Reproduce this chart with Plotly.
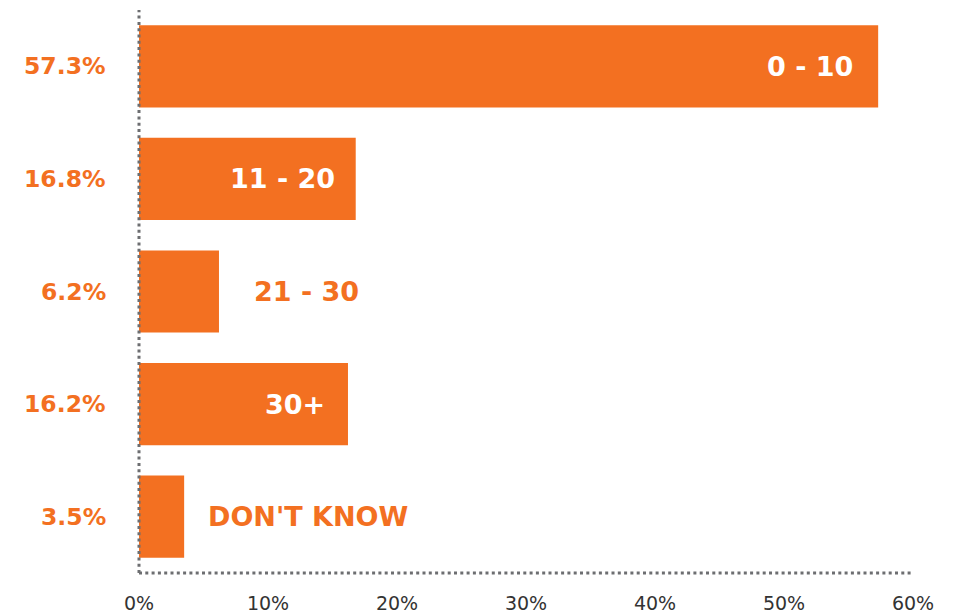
import plotly.graph_objects as go

# Survey answers: share of respondents per range
categories = ["0 - 10", "11 - 20", "21 - 30", "30+", "DON'T KNOW"]
values = [57.3, 16.8, 6.2, 16.2, 3.5]
value_labels = ["57.3%", "16.8%", "6.2%", "16.2%", "3.5%"]
x_ticks = [0, 10, 20, 30, 40, 50, 60]
x_tick_labels = ["0%", "10%", "20%", "30%", "40%", "50%", "60%"]

ORANGE = "#F37021"
DOT_GREY = "#6d6e71"
FONT = "DejaVu Sans"

# Where each category name sits relative to its bar end (pixels):
# negative = inside the bar (white), positive = past the bar (orange)
name_offset = {"0 - 10": -23, "11 - 20": -19, "21 - 30": 33, "30+": -21, "DON'T KNOW": 22}

fig = go.Figure(
    go.Bar(
        x=values,
        y=categories,
        orientation="h",
        marker=dict(color=ORANGE, line=dict(width=0)),
        width=0.73,
        hoverinfo="skip",
    )
)

annotations = []
for cat, val, lab in zip(categories, values, value_labels):
    shift = name_offset[cat]
    inside = shift < 0
    annotations.append(dict(
        x=val, y=cat, xref="x", yref="y",
        text=f"<b>{cat}</b>",
        showarrow=False,
        xanchor="right" if inside else "left",
        xshift=shift,
        font=dict(family=FONT, size=27, color="white" if inside else ORANGE),
    ))
    # percentage on the left of the axis
    annotations.append(dict(
        x=0, y=cat, xref="paper", yref="y",
        text=f"<b>{lab}</b>",
        showarrow=False,
        xanchor="right",
        xshift=-31,
        font=dict(family=FONT, size=23.5, color=ORANGE),
    ))

shapes = [
    # dotted vertical axis
    dict(type="line", xref="paper", yref="paper", x0=0, x1=0, y0=0, y1=1,
         line=dict(color=DOT_GREY, width=3, dash="3px,3.3px"), layer="above"),
    # dotted horizontal axis
    dict(type="line", xref="paper", yref="paper", x0=0, x1=1, y0=0, y1=0,
         line=dict(color=DOT_GREY, width=3, dash="3px,3.3px"), layer="above"),
]

fig.update_layout(
    width=968, height=613,
    margin=dict(l=139, r=55, t=10, b=40, autoexpand=False),
    paper_bgcolor="white",
    plot_bgcolor="white",
    showlegend=False,
    annotations=annotations,
    shapes=shapes,
    xaxis=dict(
        range=[0, 60],
        tickvals=x_ticks,
        ticktext=x_tick_labels,
        showgrid=False,
        zeroline=False,
        showline=False,
        ticks="",
        automargin=False,
        tickfont=dict(family=FONT, size=19, color="#333333"),
        ticklabelstandoff=17,
    ),
    yaxis=dict(
        categoryorder="array",
        categoryarray=categories,
        range=[4.5, -0.5],
        showgrid=False,
        zeroline=False,
        showline=False,
        showticklabels=False,
        automargin=False,
        ticks="",
    ),
)

fig.write_html("out.html")
